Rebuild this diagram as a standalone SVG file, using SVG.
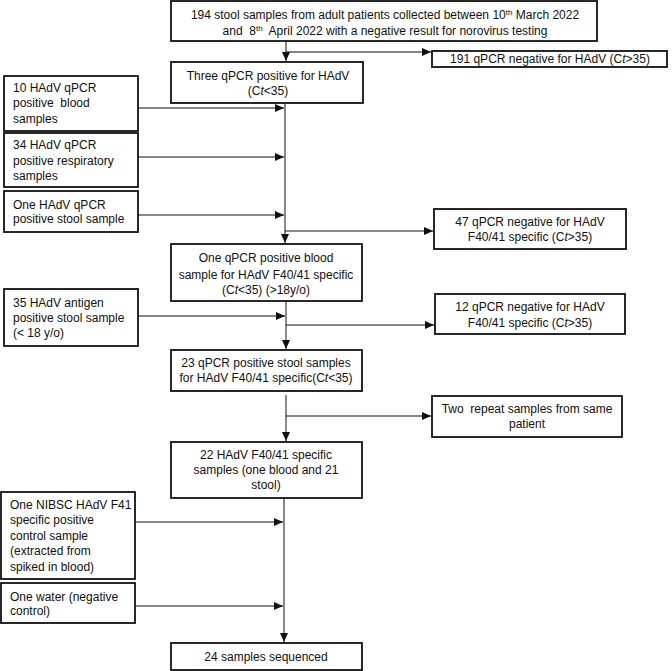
<svg xmlns="http://www.w3.org/2000/svg" width="672" height="671" viewBox="0 0 672 671">
<style>
.box{fill:#fff;stroke:#111;stroke-width:1.8}
.t{font-family:"Liberation Sans",Arial,sans-serif;font-size:12px;fill:#111;white-space:pre}
.c{text-anchor:middle}
.con{stroke:#111;stroke-width:1;fill:none}
</style>
<defs>
<marker id="ah" markerUnits="userSpaceOnUse" markerWidth="10" markerHeight="8" refX="9" refY="4" orient="auto">
<path d="M0,0 L9,4 L0,8 Z" fill="#111"/>
</marker>
</defs>
<rect width="672" height="671" fill="#fff"/>
<g id="connectors">
<path class="con" d="M286,41 V61" marker-end="url(#ah)"/>
<path class="con" d="M286,52 H431" marker-end="url(#ah)"/>
<path class="con" d="M285,103 V243" marker-end="url(#ah)"/>
<path class="con" d="M138,108 H284" marker-end="url(#ah)"/>
<path class="con" d="M138,157 H284" marker-end="url(#ah)"/>
<path class="con" d="M138,215 H284" marker-end="url(#ah)"/>
<path class="con" d="M285,231 H433" marker-end="url(#ah)"/>
<path class="con" d="M286,301 V349" marker-end="url(#ah)"/>
<path class="con" d="M138,316 H285" marker-end="url(#ah)"/>
<path class="con" d="M286,325 H434" marker-end="url(#ah)"/>
<path class="con" d="M286,395 V441" marker-end="url(#ah)"/>
<path class="con" d="M286,416 H431" marker-end="url(#ah)"/>
<path class="con" d="M284,498 V642" marker-end="url(#ah)"/>
<path class="con" d="M135,522 H283" marker-end="url(#ah)"/>
<path class="con" d="M135,606 H283" marker-end="url(#ah)"/>
</g>
<g id="n-top">
<rect class="box" x="171" y="1" width="426" height="40"/>
<text class="t c" x="385" y="19">194 stool samples from adult patients collected between 10<tspan font-size="8" dy="-4">th</tspan><tspan dy="4"> March 2022</tspan></text>
<text class="t c" x="385" y="35">and  8<tspan font-size="8" dy="-4">th</tspan><tspan dy="4">  April 2022 with a negative result for norovirus testing</tspan></text>
</g>
<g id="n-191">
<rect class="box" x="432" y="51" width="235" height="16"/>
<text class="t c" x="550" y="63">191 qPCR negative for HAdV (C<tspan font-style="italic">t</tspan>&gt;35)</text>
</g>
<g id="n-three">
<rect class="box" x="171" y="62" width="192" height="41"/>
<text class="t c" x="268" y="80">Three qPCR positive for HAdV</text>
<text class="t c" x="268" y="95">(C<tspan font-style="italic">t</tspan>&lt;35)</text>
</g>
<g id="n-blood10">
<rect class="box" x="4" y="76" width="134" height="55"/>
<text class="t" x="13" y="92">10 HAdV qPCR</text>
<text class="t" x="13" y="107">positive  blood</text>
<text class="t" x="13" y="123">samples</text>
</g>
<g id="n-resp34">
<rect class="box" x="4" y="133" width="134" height="54"/>
<text class="t" x="13" y="149">34 HAdV qPCR</text>
<text class="t" x="13" y="165">positive respiratory</text>
<text class="t" x="13" y="180">samples</text>
</g>
<g id="n-stool1">
<rect class="box" x="4" y="191" width="134" height="41"/>
<text class="t" x="13" y="209">One HAdV qPCR</text>
<text class="t" x="13" y="223">positive stool sample</text>
</g>
<g id="n-neg47">
<rect class="box" x="434" y="209" width="192" height="40"/>
<text class="t c" x="530" y="226">47 qPCR negative for HAdV</text>
<text class="t c" x="530" y="241">F40/41 specific (C<tspan font-style="italic">t</tspan>&gt;35)</text>
</g>
<g id="n-oneblood">
<rect class="box" x="171" y="244" width="191" height="57"/>
<text class="t c" x="266" y="262">One qPCR positive blood</text>
<text class="t c" x="266" y="279">sample for HAdV F40/41 specific</text>
<text class="t c" x="266" y="294">(C<tspan font-style="italic">t</tspan>&lt;35) (&gt;18y/o)</text>
</g>
<g id="n-antigen35">
<rect class="box" x="4" y="289" width="134" height="57"/>
<text class="t" x="13" y="307">35 HAdV antigen</text>
<text class="t" x="13" y="322">positive stool sample</text>
<text class="t" x="13" y="337">(&lt; 18 y/o)</text>
</g>
<g id="n-neg12">
<rect class="box" x="435" y="294" width="190" height="40"/>
<text class="t c" x="530" y="311">12 qPCR negative for HAdV</text>
<text class="t c" x="530" y="327">F40/41 specific (C<tspan font-style="italic">t</tspan>&gt;35)</text>
</g>
<g id="n-pos23">
<rect class="box" x="171" y="350" width="191" height="41"/>
<text class="t c" x="266" y="367">23 qPCR positive stool samples</text>
<text class="t c" x="266" y="382">for HAdV F40/41 specific(C<tspan font-style="italic">t</tspan>&lt;35)</text>
</g>
<g id="n-repeat">
<rect class="box" x="432" y="396" width="190" height="41"/>
<text class="t c" x="527" y="413">Two  repeat samples from same</text>
<text class="t c" x="527" y="428">patient</text>
</g>
<g id="n-22">
<rect class="box" x="171" y="442" width="191" height="56"/>
<text class="t c" x="266" y="459">22 HAdV F40/41 specific</text>
<text class="t c" x="266" y="474">samples (one blood and 21</text>
<text class="t c" x="266" y="489">stool)</text>
</g>
<g id="n-nibsc">
<rect class="box" x="1" y="492" width="134" height="87"/>
<text class="t" x="10" y="509">One NIBSC HAdV F41</text>
<text class="t" x="10" y="524">specific positive</text>
<text class="t" x="10" y="540">control sample</text>
<text class="t" x="10" y="555">(extracted from</text>
<text class="t" x="10" y="571">spiked in blood)</text>
</g>
<g id="n-water">
<rect class="box" x="1" y="583" width="134" height="40"/>
<text class="t" x="10" y="601">One water (negative</text>
<text class="t" x="10" y="615">control)</text>
</g>
<g id="n-24">
<rect class="box" x="171" y="643" width="191" height="27"/>
<text class="t c" x="266" y="661">24 samples sequenced</text>
</g>
</svg>
